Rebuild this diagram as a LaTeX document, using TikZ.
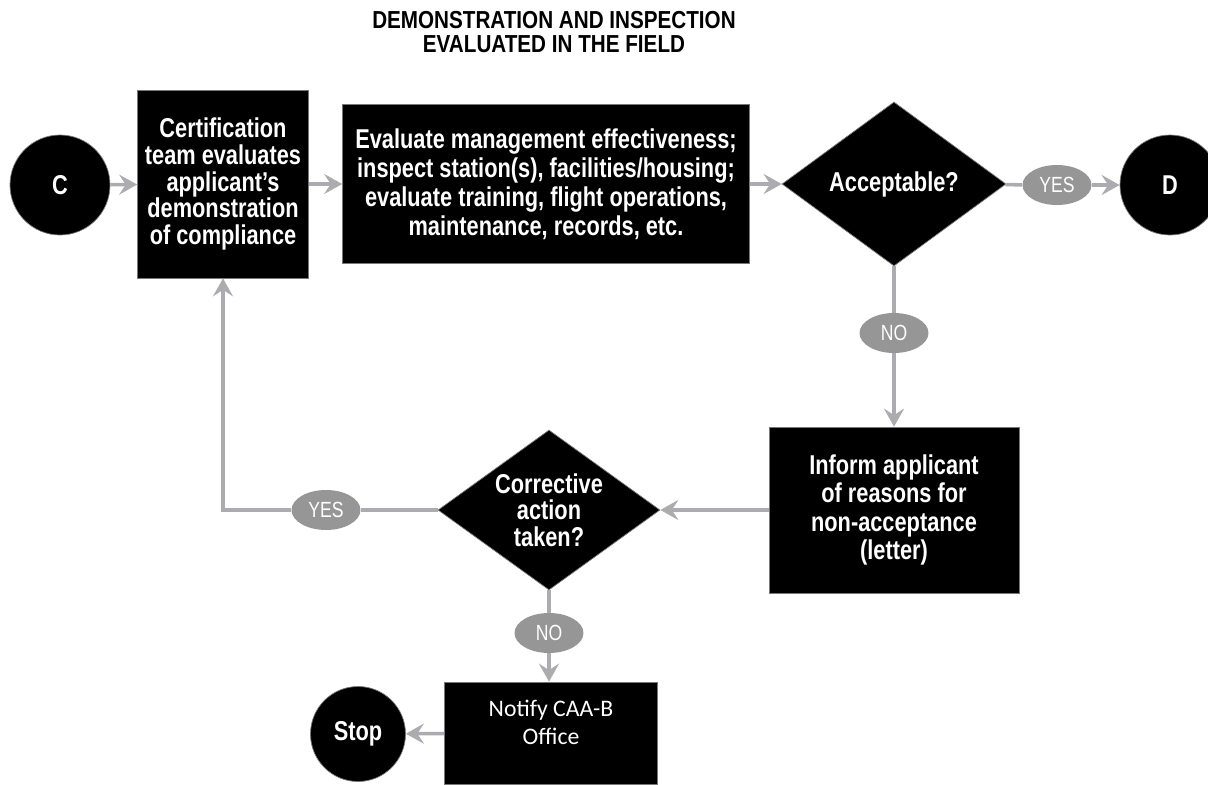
\documentclass[tikz,border=0pt]{standalone}
\usepackage{fontspec}
\usetikzlibrary{shapes.geometric,arrows.meta}
\setmainfont{Liberation Sans}
\newfontfamily\condfont[FakeStretch=0.8]{Liberation Sans}
\newfontfamily\titlefont[FakeStretch=0.84]{Liberation Sans}
\newfontfamily\notefont{Carlito}
\definecolor{linegray}{RGB}{172,172,176}
\definecolor{taggray}{RGB}{150,150,150}
\definecolor{rimgray}{RGB}{120,120,120}

\begin{document}
\begin{tikzpicture}[x=0.02cm, y=-0.02cm,
    >={Stealth[length=0.36cm,width=0.4cm,inset=0.13cm]}]
        \useasboundingbox (0,0) rectangle (1208,785);
        \node (title) [align=center, font=\titlefont\bfseries\fontsize{14}{13.8}\selectfont] at (554,32) {DEMONSTRATION AND INSPECTION\\EVALUATED IN THE FIELD};

        \begin{scope}[every node/.style={circle,draw=rimgray,thin,fill=black,text=white,inner sep=0pt,font=\condfont\bfseries\fontsize{15.5}{16}\selectfont}]
            \node (C) [minimum size=2cm] at (60,185) {C};
            \node (D) [minimum size=2cm] at (1170,185) {D};
            \node (stop) [minimum size=1.9cm] at (358,734) {Stop};
        \end{scope}
        \begin{scope}[every node/.style={rectangle,draw=rimgray,thin,fill=black,text=white,align=center,inner sep=0pt,font=\condfont\bfseries\fontsize{15.5}{15.2}\selectfont}]
            \node (cert) [minimum width=3.42cm, minimum height=3.76cm] at (223,184) {Certification\\team evaluates\\applicant’s\\demonstration\\of compliance};
            \node (eval) [minimum width=8.14cm, minimum height=3.18cm, font=\condfont\bfseries\fontsize{15.5}{16.6}\selectfont] at (546,184) {Evaluate management effectiveness;\\inspect station(s), facilities/housing;\\evaluate training, flight operations,\\maintenance, records, etc.};
            \node (inform) [minimum width=5cm, minimum height=3.32cm, font=\condfont\bfseries\fontsize{15.5}{16}\selectfont] at (894,510) {Inform applicant\\of reasons for\\non-acceptance\\(letter)};
            \node (notify) [minimum width=4.26cm, minimum height=2.04cm, text depth=0.42cm, font=\notefont\fontsize{13.5}{16}\selectfont] at (551,733) {Notify CAA-B\\Office};
            \node (accept) [diamond, aspect=1.37, minimum width=4.48cm, minimum height=3.28cm] at (894,184) {Acceptable?};
            \node (corr) [diamond, aspect=1.38, minimum width=4.44cm, minimum height=3.2cm] at (549,510) {Corrective\\action\\taken?};
        \end{scope}
        \begin{scope}[every node/.style={ellipse,fill=taggray,text=white,inner sep=0pt,minimum width=1.38cm,minimum height=0.8cm,font=\condfont\fontsize{12.5}{13}\selectfont}]
            \node (yesA) at (1057,185) {YES};
            \node (noA) at (894,333) {NO};
            \node (yesB) at (326,510) {YES};
            \node (noB) at (549,633) {NO};
        \end{scope}

        \begin{scope}[every path/.style={draw=linegray,line width=2pt}]
            \draw [->] (C) -- (cert);
            \draw [->] (cert) -- (eval);
            \draw [->] (eval) -- (accept);
            \draw (accept) -- (yesA);
            \draw [->] (yesA) -- (D);
            \draw (accept) -- (noA);
            \draw [->] (noA) -- (inform);
            \draw [->] (inform) -- (corr);
            \draw (corr) -- (yesB);
            \draw [->] (yesB) -| (cert);
            \draw (corr) -- (noB);
            \draw [->] (noB) -- (noB |- notify.north);
            \draw [->] (notify) -- (stop);
        \end{scope}
    \end{tikzpicture}
\end{document}
